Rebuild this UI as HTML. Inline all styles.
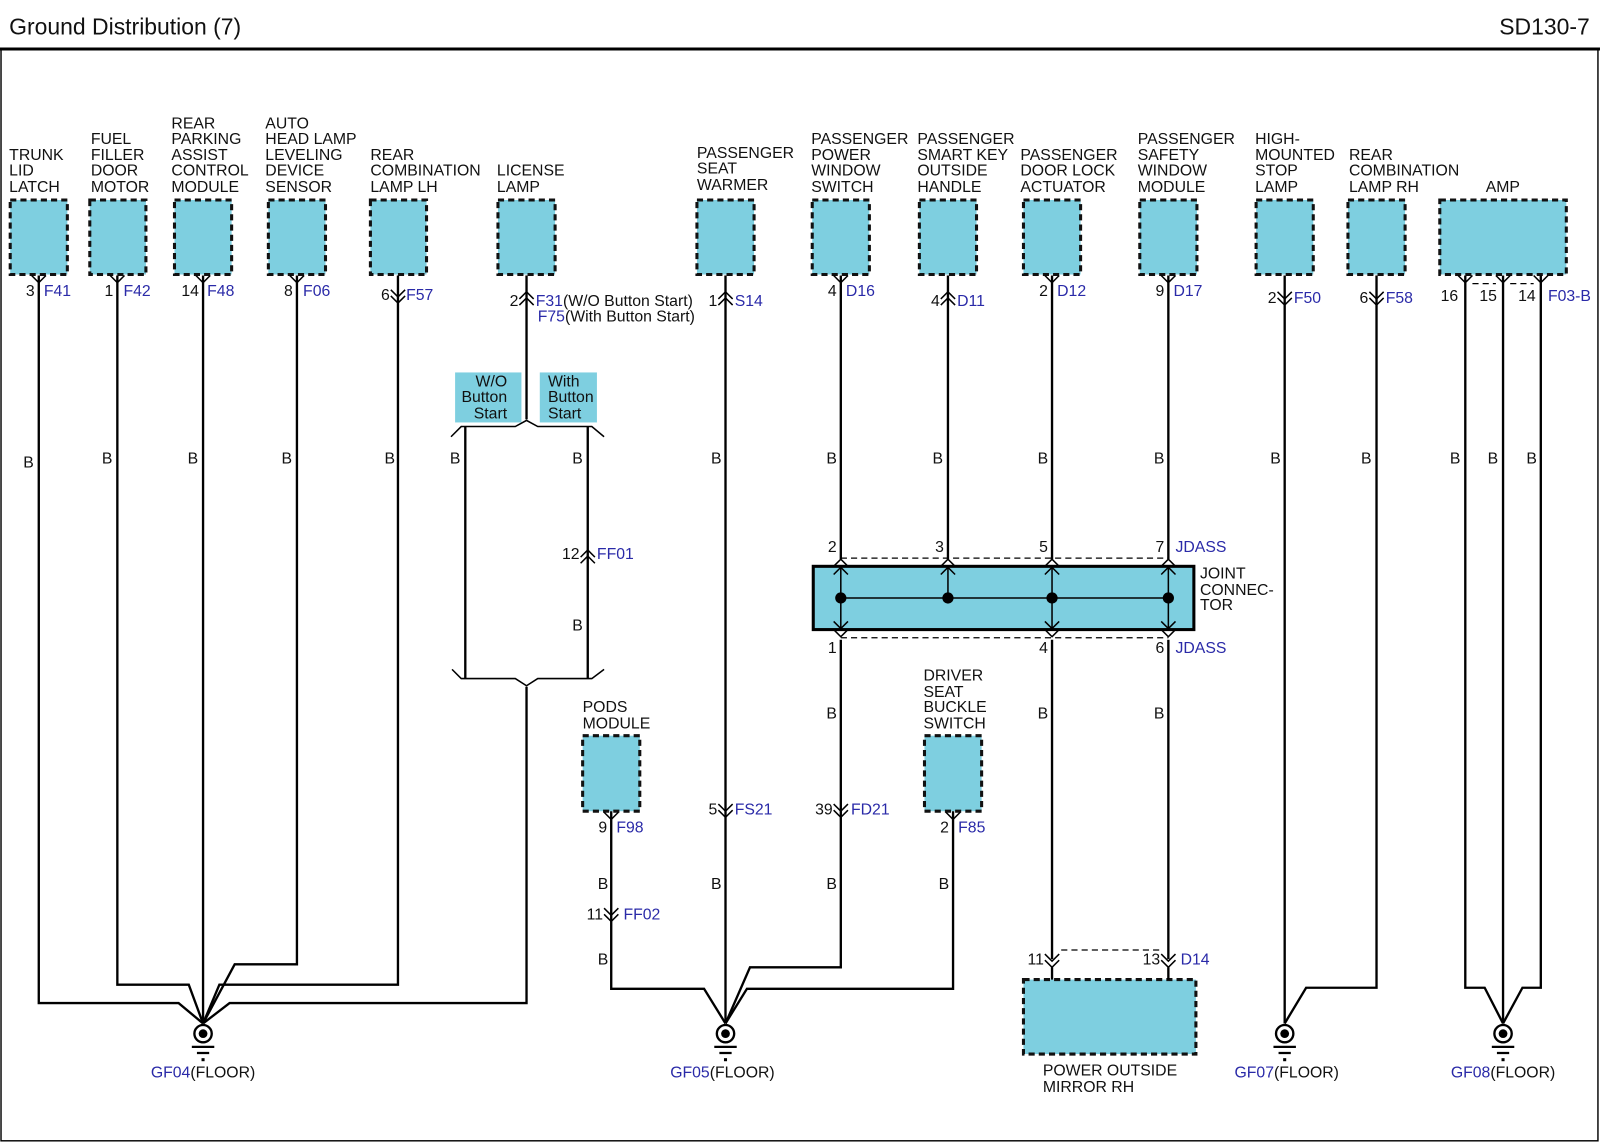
<!DOCTYPE html>
<html><head><meta charset="utf-8"><style>
html,body{margin:0;padding:0;background:#fff}
svg{display:block}
text{font-family:"Liberation Sans",Arial,sans-serif;font-size:15.5px;fill:#111}
.b{fill:#2a2aa8}
.w{stroke:#000;stroke-width:2.3;fill:none}
.t{stroke:#000;stroke-width:1.5;fill:none}
.box{fill:#7ecfe0;stroke:#111;stroke-width:3;stroke-dasharray:6,4}
.lb{fill:#7ecfe0}
.dash{stroke:#000;stroke-width:1.2;stroke-dasharray:6,4;fill:none}
</style></head><body>
<svg width="1600" height="1143" viewBox="0 0 1600 1143" xmlns="http://www.w3.org/2000/svg">
<defs>
<path id="dn" d="M-7,-7 L0,0 L7,-7 M-7,-1 L0,6 L7,-1" stroke="#000" stroke-width="1.5" fill="none"/>
<path id="up" d="M-7,7 L0,0 L7,7 M-7,1 L0,-6 L7,1" stroke="#000" stroke-width="1.5" fill="none"/>
<path id="y" d="M-7,0 L0,7 L7,0" stroke="#000" stroke-width="1.5" fill="none"/>
<g id="gnd"><circle cx="0" cy="0" r="8.5" fill="#fff" stroke="#000" stroke-width="2.3"/><circle cx="0" cy="0" r="4.3" fill="#000"/><path d="M-11,13 H11 M-6,19 H6" stroke="#000" stroke-width="2.2"/><rect x="-1.5" y="24" width="3" height="3" fill="#000"/></g>
</defs>
<g transform="scale(1.0204,1.0204)">
<!-- header -->
<text x="9" y="34" style="font-size:22.5px">Ground Distribution (7)</text>
<text x="1558" y="34" text-anchor="end" style="font-size:22.5px">SD130-7</text>
<line x1="0" y1="48" x2="1568" y2="48" stroke="#000" stroke-width="3"/>
<rect x="1" y="48" width="1565" height="1070" fill="none" stroke="#000" stroke-width="1.4"/>

<!-- component labels -->
<text x="9" y="157">TRUNK</text><text x="9" y="172">LID</text><text x="9" y="188">LATCH</text>
<text x="89" y="141">FUEL</text><text x="89" y="157">FILLER</text><text x="89" y="172">DOOR</text><text x="89" y="188">MOTOR</text>
<text x="168" y="126">REAR</text><text x="168" y="141">PARKING</text><text x="168" y="157">ASSIST</text><text x="168" y="172">CONTROL</text><text x="168" y="188">MODULE</text>
<text x="260" y="126">AUTO</text><text x="260" y="141">HEAD LAMP</text><text x="260" y="157">LEVELING</text><text x="260" y="172">DEVICE</text><text x="260" y="188">SENSOR</text>
<text x="363" y="157">REAR</text><text x="363" y="172">COMBINATION</text><text x="363" y="188">LAMP LH</text>
<text x="487" y="172">LICENSE</text><text x="487" y="188">LAMP</text>
<text x="683" y="155">PASSENGER</text><text x="683" y="170">SEAT</text><text x="683" y="186">WARMER</text>
<text x="795" y="141">PASSENGER</text><text x="795" y="157">POWER</text><text x="795" y="172">WINDOW</text><text x="795" y="188">SWITCH</text>
<text x="899" y="141">PASSENGER</text><text x="899" y="157">SMART KEY</text><text x="899" y="172">OUTSIDE</text><text x="899" y="188">HANDLE</text>
<text x="1000" y="157">PASSENGER</text><text x="1000" y="172">DOOR LOCK</text><text x="1000" y="188">ACTUATOR</text>
<text x="1115" y="141">PASSENGER</text><text x="1115" y="157">SAFETY</text><text x="1115" y="172">WINDOW</text><text x="1115" y="188">MODULE</text>
<text x="1230" y="141">HIGH-</text><text x="1230" y="157">MOUNTED</text><text x="1230" y="172">STOP</text><text x="1230" y="188">LAMP</text>
<text x="1322" y="157">REAR</text><text x="1322" y="172">COMBINATION</text><text x="1322" y="188">LAMP RH</text>
<text x="1456" y="188">AMP</text>

<!-- boxes -->
<rect class="box" x="10" y="196" width="56" height="73"/>
<rect class="box" x="88" y="196" width="55" height="73"/>
<rect class="box" x="171" y="196" width="56" height="73"/>
<rect class="box" x="263" y="196" width="56" height="73"/>
<rect class="box" x="363" y="196" width="55" height="73"/>
<rect class="box" x="488" y="196" width="56" height="73"/>
<rect class="box" x="683" y="196" width="56" height="73"/>
<rect class="box" x="796" y="196" width="56" height="73"/>
<rect class="box" x="901" y="196" width="56" height="73"/>
<rect class="box" x="1003" y="196" width="56" height="73"/>
<rect class="box" x="1117" y="196" width="56" height="73"/>
<rect class="box" x="1231" y="196" width="56" height="73"/>
<rect class="box" x="1321" y="196" width="56" height="73"/>
<rect class="box" x="1411" y="196" width="124" height="73"/>
<rect class="box" x="571" y="721" width="56" height="74"/>
<rect class="box" x="906" y="721" width="56" height="74"/>
<rect class="box" x="1003" y="960" width="169" height="73"/>

<!-- top connectors -->
<use href="#y" x="38" y="270"/><use href="#y" x="115" y="270"/><use href="#y" x="199" y="270"/><use href="#y" x="291" y="270"/>
<use href="#dn" x="390" y="291"/>
<use href="#up" x="516" y="292"/>
<use href="#up" x="711" y="292"/>
<use href="#y" x="824" y="270"/>
<use href="#up" x="929" y="292"/>
<use href="#y" x="1031" y="270"/><use href="#y" x="1145" y="270"/>
<use href="#dn" x="1259" y="293"/><use href="#dn" x="1349" y="293"/>
<use href="#y" x="1436" y="270"/><use href="#y" x="1473" y="270"/><use href="#y" x="1510" y="270"/>
<path class="dash" d="M1443,278 H1466 M1480,278 H1503"/>

<text x="34" y="290" text-anchor="end">3</text><text x="43" y="290" class="b">F41</text>
<text x="111" y="290" text-anchor="end">1</text><text x="121" y="290" class="b">F42</text>
<text x="195" y="290" text-anchor="end">14</text><text x="203" y="290" class="b">F48</text>
<text x="287" y="290" text-anchor="end">8</text><text x="297" y="290" class="b">F06</text>
<text x="382" y="294" text-anchor="end">6</text><text x="398" y="294" class="b">F57</text>
<text x="508" y="300" text-anchor="end">2</text><text x="525" y="300"><tspan class="b">F31</tspan>(W/O Button Start)</text>
<text x="527" y="315"><tspan class="b">F75</tspan>(With Button Start)</text>
<text x="703" y="300" text-anchor="end">1</text><text x="720" y="300" class="b">S14</text>
<text x="820" y="290" text-anchor="end">4</text><text x="829" y="290" class="b">D16</text>
<text x="921" y="300" text-anchor="end">4</text><text x="938" y="300" class="b">D11</text>
<text x="1027" y="290" text-anchor="end">2</text><text x="1036" y="290" class="b">D12</text>
<text x="1141" y="290" text-anchor="end">9</text><text x="1150" y="290" class="b">D17</text>
<text x="1251" y="297" text-anchor="end">2</text><text x="1268" y="297" class="b">F50</text>
<text x="1341" y="297" text-anchor="end">6</text><text x="1358" y="297" class="b">F58</text>
<text x="1429" y="295" text-anchor="end">16</text><text x="1467" y="295" text-anchor="end">15</text><text x="1505" y="295" text-anchor="end">14</text><text x="1517" y="295" class="b">F03-B</text>

<!-- wires GF04 -->
<path class="w" d="M38,270 V983 H175 L199,1003"/>
<path class="w" d="M115,270 V965 H185 L199,1003"/>
<path class="w" d="M199,270 V1003"/>
<path class="w" d="M291,270 V945 H230 L199,1003"/>
<path class="w" d="M390,270 V965 H215 L199,1003"/>
<path class="w" d="M516,270 V411 M516,673 V983 H225 L199,1003"/>
<!-- license branch -->
<rect class="lb" x="446" y="365" width="65" height="49"/><rect class="lb" x="529" y="365" width="56" height="49"/>
<text x="497" y="379" text-anchor="end">W/O</text><text x="497" y="394" text-anchor="end">Button</text><text x="497" y="410" text-anchor="end">Start</text>
<text x="537" y="379">With</text><text x="537" y="394">Button</text><text x="537" y="410">Start</text>
<path class="t" d="M442,428 L452,418 H505 L516,412 L527,418 H580 L592,428"/>
<path class="t" d="M443,656 L452,665 H505 L516,672 L527,665 H580 L592,656"/>
<path class="w" d="M456,418 V665 M576,418 V665"/>
<use href="#up" x="576" y="545"/>
<text x="568" y="548" text-anchor="end">12</text><text x="585" y="548" class="b">FF01</text>

<!-- GF05 -->
<path class="w" d="M599,795 V969 H690 L711,1003"/>
<path class="w" d="M711,270 V1003"/>
<path class="w" d="M824,270 V548 M824,627 V948 H735 L711,1003"/>
<path class="w" d="M934,795 V969 H732 L711,1003"/>
<use href="#y" x="599" y="796"/><use href="#y" x="934" y="796"/>
<text x="595" y="816" text-anchor="end">9</text><text x="604" y="816" class="b">F98</text>
<text x="930" y="816" text-anchor="end">2</text><text x="939" y="816" class="b">F85</text>
<use href="#dn" x="599" y="897"/><text x="591" y="901" text-anchor="end">11</text><text x="611" y="901" class="b">FF02</text>
<use href="#dn" x="711" y="795"/><text x="703" y="798" text-anchor="end">5</text><text x="720" y="798" class="b">FS21</text>
<use href="#dn" x="824" y="795"/><text x="816" y="798" text-anchor="end">39</text><text x="834" y="798" class="b">FD21</text>
<text x="571" y="698">PODS</text><text x="571" y="714">MODULE</text>
<text x="905" y="667">DRIVER</text><text x="905" y="683">SEAT</text><text x="905" y="698">BUCKLE</text><text x="905" y="714">SWITCH</text>

<!-- joint connector -->
<path class="w" d="M929,270 V548 M1031,270 V548 M1145,270 V548 M1031,627 V940 M1145,627 V940"/>
<rect x="797" y="555" width="373" height="62" fill="#7ecfe0" stroke="#000" stroke-width="3"/>
<path class="dash" d="M824,547 H1145 M824,625 H1145"/>
<g stroke="#000" stroke-width="1.5" fill="none">
<path d="M824,556 V616 M929,556 V586 M1031,556 V616 M1145,556 V616 M824,586 H1145"/>
<path d="M817,563 L824,556 L831,563 M922,563 L929,556 L936,563 M1024,563 L1031,556 L1038,563 M1138,563 L1145,556 L1152,563"/>
<path d="M817,609 L824,616 L831,609 M1024,609 L1031,616 L1038,609 M1138,609 L1145,616 L1152,609"/>
<path d="M817,555 L824,548 L831,555 M922,555 L929,548 L936,555 M1024,555 L1031,548 L1038,555 M1138,555 L1145,548 L1152,555"/>
<path d="M817,617 L824,624 L831,617 M1024,617 L1031,624 L1038,617 M1138,617 L1145,624 L1152,617"/>
</g>
<circle cx="824" cy="586" r="5.5"/><circle cx="929" cy="586" r="5.5"/><circle cx="1031" cy="586" r="5.5"/><circle cx="1145" cy="586" r="5.5"/>
<text x="820" y="541" text-anchor="end">2</text><text x="925" y="541" text-anchor="end">3</text><text x="1027" y="541" text-anchor="end">5</text><text x="1141" y="541" text-anchor="end">7</text><text x="1152" y="541" class="b">JDASS</text>
<text x="820" y="640" text-anchor="end">1</text><text x="1027" y="640" text-anchor="end">4</text><text x="1141" y="640" text-anchor="end">6</text><text x="1152" y="640" class="b">JDASS</text>
<text x="1176" y="567">JOINT</text><text x="1176" y="583">CONNEC-</text><text x="1176" y="598">TOR</text>

<!-- mirror -->
<use href="#dn" x="1031" y="942"/><use href="#dn" x="1145" y="942"/>
<path class="w" d="M1031,948 V960 M1145,948 V960"/>
<path class="dash" d="M1040,931 H1136"/>
<text x="1023" y="945" text-anchor="end">11</text><text x="1137" y="945" text-anchor="end">13</text><text x="1157" y="945" class="b">D14</text>
<text x="1022" y="1054">POWER OUTSIDE</text><text x="1022" y="1070">MIRROR RH</text>

<!-- GF07 / GF08 -->
<path class="w" d="M1259,270 V1003"/>
<path class="w" d="M1349,270 V968 H1280 L1259,1003"/>
<path class="w" d="M1436,270 V968 H1455 L1473,1003"/>
<path class="w" d="M1473,270 V1003"/>
<path class="w" d="M1510,270 V968 H1492 L1473,1003"/>

<!-- grounds -->
<use href="#gnd" x="199" y="1013"/><use href="#gnd" x="711" y="1013"/><use href="#gnd" x="1259" y="1013"/><use href="#gnd" x="1473" y="1013"/>
<text x="199" y="1056" text-anchor="middle"><tspan class="b">GF04</tspan>(FLOOR)</text>
<text x="708" y="1056" text-anchor="middle"><tspan class="b">GF05</tspan>(FLOOR)</text>
<text x="1261" y="1056" text-anchor="middle"><tspan class="b">GF07</tspan>(FLOOR)</text>
<text x="1473" y="1056" text-anchor="middle"><tspan class="b">GF08</tspan>(FLOOR)</text>

<!-- B labels -->
<g text-anchor="middle">
<text x="28" y="458">B</text><text x="105" y="454">B</text><text x="189" y="454">B</text><text x="281" y="454">B</text><text x="382" y="454">B</text>
<text x="446" y="454">B</text><text x="566" y="454">B</text><text x="566" y="618">B</text>
<text x="702" y="454">B</text><text x="815" y="454">B</text><text x="919" y="454">B</text><text x="1022" y="454">B</text><text x="1136" y="454">B</text>
<text x="1250" y="454">B</text><text x="1339" y="454">B</text><text x="1426" y="454">B</text><text x="1463" y="454">B</text><text x="1501" y="454">B</text>
<text x="815" y="704">B</text><text x="1022" y="704">B</text><text x="1136" y="704">B</text>
<text x="591" y="871">B</text><text x="702" y="871">B</text><text x="815" y="871">B</text><text x="925" y="871">B</text>
<text x="591" y="945">B</text>
</g>
</g>
</svg>
</body></html>
